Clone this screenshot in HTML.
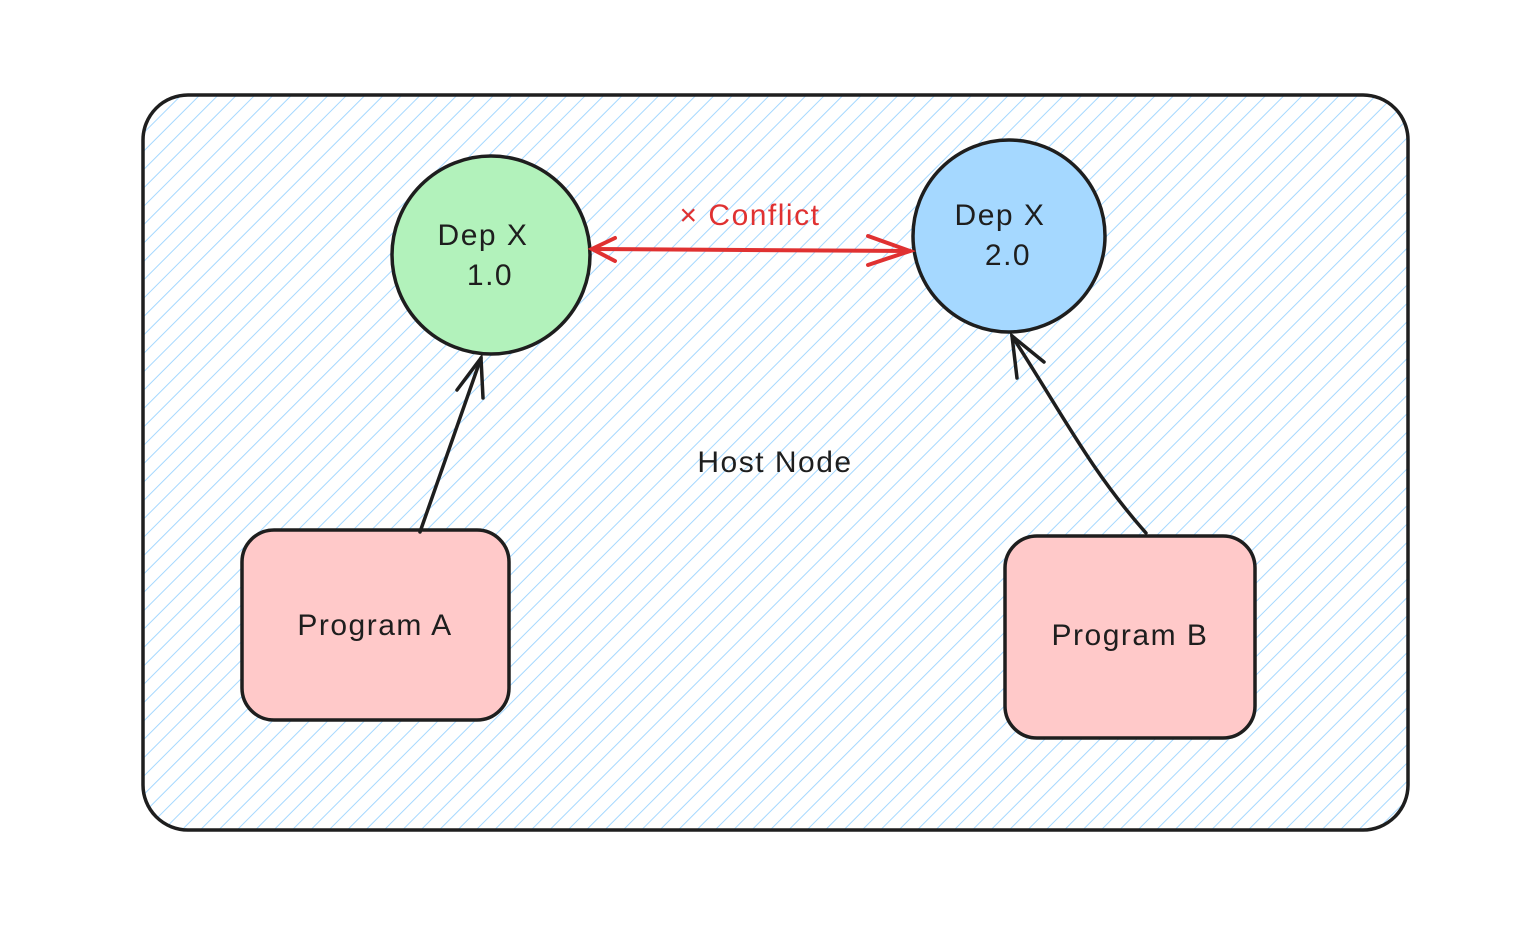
<!DOCTYPE html>
<html><head><meta charset="utf-8"><style>
html,body{margin:0;padding:0;background:#fff;width:1536px;height:947px;overflow:hidden}
text{font-family:"Liberation Sans",sans-serif;fill:#1e1e1e;letter-spacing:1.5px}
</style></head><body>
<svg width="1536" height="947" viewBox="0 0 1536 947" xmlns="http://www.w3.org/2000/svg">
<defs>
<pattern id="h" patternUnits="userSpaceOnUse" width="13" height="13" patternTransform="rotate(45)">
<line x1="0" y1="0" x2="0" y2="13" stroke="#a5d8ff" stroke-width="2"/>
</pattern>
</defs>
<rect x="143" y="95" width="1265" height="735" rx="45" fill="url(#h)"/>
<rect x="143" y="95" width="1265" height="735" rx="45" fill="none" stroke="#1e1e1e" stroke-width="3.5"/>
<circle cx="491" cy="255" r="99" fill="#b2f2bb" stroke="#1e1e1e" stroke-width="3.5"/>
<circle cx="1009" cy="236" r="96" fill="#a5d8ff" stroke="#1e1e1e" stroke-width="3.5"/>
<rect x="242" y="530" width="267" height="190" rx="32" fill="#ffc9c9" stroke="#1e1e1e" stroke-width="3.5"/>
<rect x="1005" y="536" width="250" height="202" rx="32" fill="#ffc9c9" stroke="#1e1e1e" stroke-width="3.5"/>
<text x="483" y="245" font-size="30" text-anchor="middle">Dep X</text>
<text x="490" y="285" font-size="30" text-anchor="middle">1.0</text>
<text x="1000" y="225" font-size="30" text-anchor="middle">Dep X</text>
<text x="1008" y="265" font-size="30" text-anchor="middle">2.0</text>
<text x="375" y="635" font-size="30" text-anchor="middle">Program A</text>
<text x="1130" y="645" font-size="30" text-anchor="middle">Program B</text>
<text x="775" y="472" font-size="30" text-anchor="middle">Host Node</text>
<text x="750" y="225" font-size="30" text-anchor="middle" style="fill:#e03131">× Conflict</text>
<g stroke="#e03131" stroke-width="4" fill="none" stroke-linecap="round">
<line x1="592" y1="249" x2="910" y2="251"/>
<polyline points="615,238 592,249 615,261"/>
<polyline points="868,236 910,251 868,265"/>
</g>
<g stroke="#1e1e1e" stroke-width="3.5" fill="none" stroke-linecap="round">
<line x1="420" y1="532" x2="481" y2="358"/>
<polyline points="457,390 481,358 483,398"/>
<path d="M1146,533 C1090,470 1060,410 1012,336"/>
<polyline points="1017,378 1012,336 1044,362"/>
</g>
</svg>
</body></html>
